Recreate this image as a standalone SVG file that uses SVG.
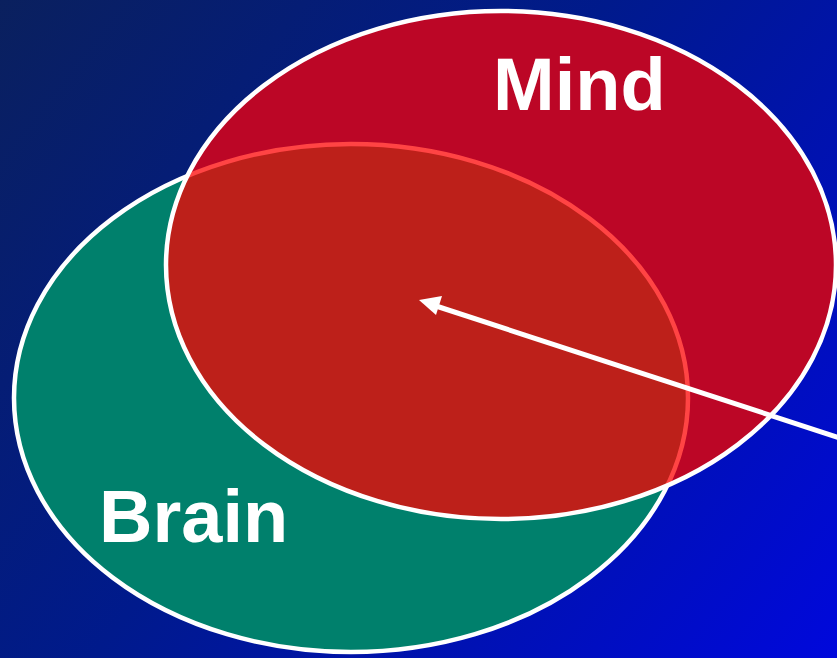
<svg xmlns="http://www.w3.org/2000/svg" width="837" height="658" viewBox="0 0 837 658">
<defs>
<linearGradient id="bg" x1="0" y1="0" x2="837" y2="658" gradientUnits="userSpaceOnUse">
<stop offset="0" stop-color="#0a205e"/>
<stop offset="0.45" stop-color="#001a8c"/>
<stop offset="1" stop-color="#0008dc"/>
</linearGradient>
<clipPath id="mindClip"><ellipse cx="501" cy="265" rx="335" ry="254"/></clipPath>
<style>
.lbl{font-family:"Liberation Sans",Arial,sans-serif;font-weight:bold;font-size:74px;fill:#fff}
</style>
</defs>
<rect width="837" height="658" fill="url(#bg)"/>
<g id="brain">
<ellipse cx="351" cy="398" rx="337" ry="254" fill="#00806c" stroke="#fff" stroke-width="4.5"/>
</g>
<g id="mind">
<ellipse cx="501" cy="265" rx="335" ry="254" fill="#bc0626"/>
<g clip-path="url(#mindClip)">
<ellipse cx="351" cy="398" rx="337" ry="254" fill="#bd201a" stroke="#ff4444" stroke-width="4.5"/>
</g>
<ellipse cx="501" cy="265" rx="335" ry="254" fill="none" stroke="#fff" stroke-width="4.5"/>
</g>
<text class="lbl" x="493" y="110">Mind</text>
<text class="lbl" x="99" y="542">Brain</text>
<g id="connectors">
<path d="M840,438 L436,306" stroke="#fff" stroke-width="5" fill="none"/>
<path d="M419,300 L442,296 L436,315 Z" fill="#fff"/>
</g>
</svg>
